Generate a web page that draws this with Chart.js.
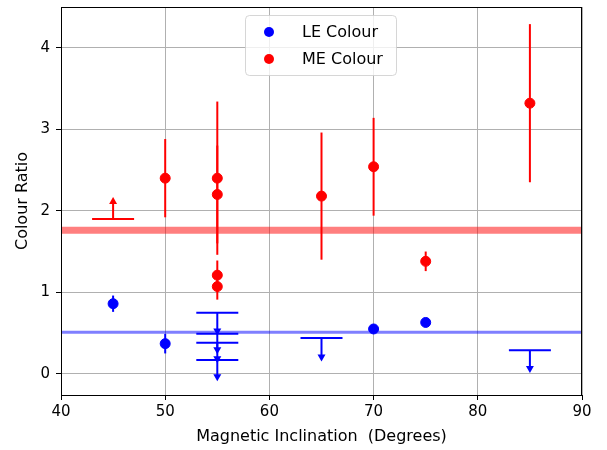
<!DOCTYPE html>
<html>
<head>
<meta charset="utf-8">
<script src="https://cdn.jsdelivr.net/npm/chart.js@4.4.1/dist/chart.umd.min.js"></script>
<style>
  html, body { margin: 0; padding: 0; background: #fff; }
</style>
</head>
<body>
<canvas id="colourChart" width="607" height="450"></canvas>
<script>
// ME colour measurements (x = inclination, y = ratio, err = symmetric error)
const meX   = [50, 55, 55, 55, 55, 65, 70, 75, 85];
const meY   = [2.40, 2.40, 2.20, 1.21, 1.07, 2.18, 2.54, 1.38, 3.32];
const meErr = [0.48, 0.94, 0.60, 0.18, 0.16, 0.78, 0.60, 0.12, 0.97];

// ME lower limits
const meLimX   = [45];
const meLimY   = [1.90];
const meLimLen = [0.27];

// LE colour measurements
const leX   = [45, 50, 70, 75];
const leY   = [0.86, 0.37, 0.55, 0.63];
const leErr = [0.10, 0.12, 0.02, 0.02];

// LE upper limits
const leLimX   = [55, 55, 55, 55, 65, 85];
const leLimY   = [0.75, 0.49, 0.38, 0.17, 0.44, 0.29];
const leLimLen = [0.28, 0.25, 0.25, 0.26, 0.29, 0.28];

// mean levels
const meLevel = 1.76;
const leLevel = 0.51;

const xTicks = [40, 50, 60, 70, 80, 90];
const yTicks = [0, 1, 2, 3, 4];

const BLUE = '#0000ff';
const RED = '#ff0000';

Chart.defaults.font.family = "'DejaVu Sans', sans-serif";
Chart.defaults.color = '#000';

function caret(ctx, x, y, dir) {
  // tip at (x, y); dir 1 points down, -1 points up
  ctx.beginPath();
  ctx.moveTo(x, y);
  ctx.lineTo(x - 4, y - 7 * dir);
  ctx.lineTo(x + 4, y - 7 * dir);
  ctx.closePath();
  ctx.fill();
}

const errorBars = {
  id: 'errorBars',
  beforeDatasetsDraw(chart) {
    const { ctx, chartArea: a, scales: { x, y } } = chart;
    ctx.save();
    ctx.beginPath();
    ctx.rect(a.left, a.top, a.right - a.left, a.bottom - a.top);
    ctx.clip();

    // mean levels
    ctx.strokeStyle = 'rgba(255,0,0,0.5)';
    ctx.lineWidth = 7;
    ctx.beginPath();
    ctx.moveTo(a.left, y.getPixelForValue(meLevel));
    ctx.lineTo(a.right, y.getPixelForValue(meLevel));
    ctx.stroke();
    ctx.strokeStyle = 'rgba(0,0,255,0.5)';
    ctx.lineWidth = 3;
    ctx.beginPath();
    ctx.moveTo(a.left, y.getPixelForValue(leLevel));
    ctx.lineTo(a.right, y.getPixelForValue(leLevel));
    ctx.stroke();

    ctx.lineWidth = 2;
    const bars = (xs, ys, es, col) => {
      ctx.strokeStyle = col;
      xs.forEach((v, i) => {
        const px = x.getPixelForValue(v);
        ctx.beginPath();
        ctx.moveTo(px, y.getPixelForValue(ys[i] - es[i]));
        ctx.lineTo(px, y.getPixelForValue(ys[i] + es[i]));
        ctx.stroke();
      });
    };
    bars(meX, meY, meErr, RED);
    bars(leX, leY, leErr, BLUE);

    // limits: wide cap with an arrow
    const limits = (xs, ys, ls, col, dir) => {
      ctx.strokeStyle = col;
      ctx.fillStyle = col;
      xs.forEach((v, i) => {
        const px = x.getPixelForValue(v);
        const py = y.getPixelForValue(ys[i]);
        const tip = y.getPixelForValue(ys[i] - dir * ls[i]);
        ctx.beginPath();
        ctx.moveTo(px - 21, py);
        ctx.lineTo(px + 21, py);
        ctx.moveTo(px, py);
        ctx.lineTo(px, tip - dir * 4);
        ctx.stroke();
        caret(ctx, px, tip, dir);
      });
    };
    limits(meLimX, meLimY, meLimLen, RED, -1);
    limits(leLimX, leLimY, leLimLen, BLUE, 1);
    ctx.restore();
  },
  afterDatasetsDraw(chart) {
    const { ctx, chartArea: a } = chart;
    ctx.save();
    ctx.strokeStyle = '#000';
    ctx.lineWidth = 1;
    ctx.strokeRect(a.left + 0.5, a.top + 0.5, a.right - a.left - 1, a.bottom - a.top);
    ctx.restore();
  },
  afterDraw(chart) {
    // legend box inside the plot
    const { ctx } = chart;
    ctx.save();
    ctx.fillStyle = 'rgba(255,255,255,0.8)';
    ctx.strokeStyle = 'rgba(204,204,204,0.8)';
    ctx.lineWidth = 1;
    ctx.beginPath();
    ctx.roundRect(245.5, 15.5, 151, 60, 4);
    ctx.fill();
    ctx.stroke();
    const items = [['LE Colour', BLUE, 32], ['ME Colour', RED, 59]];
    ctx.font = "16px 'DejaVu Sans'";
    ctx.textBaseline = 'middle';
    items.forEach(([label, col, yy]) => {
      ctx.fillStyle = col;
      ctx.beginPath();
      ctx.arc(269, yy, 5, 0, Math.PI * 2);
      ctx.fill();
      ctx.fillStyle = '#000';
      ctx.fillText(label, 302, yy + 1);
    });
    ctx.restore();
  }
};

const toPoints = (xs, ys) => xs.map((v, i) => ({ x: v, y: ys[i] }));

new Chart(document.getElementById('colourChart'), {
  type: 'scatter',
  data: {
    datasets: [{
      label: 'LE Colour',
      data: toPoints(leX, leY),
      backgroundColor: BLUE,
      borderColor: BLUE,
      pointRadius: 5,
      borderWidth: 1
    }, {
      label: 'ME Colour',
      data: toPoints(meX, meY),
      backgroundColor: RED,
      borderColor: RED,
      pointRadius: 5,
      borderWidth: 1
    }]
  },
  options: {
    responsive: false,
    animation: false,
    layout: { padding: { top: 7, right: 25, left: 4, bottom: 0 } },
    plugins: { legend: { display: false }, tooltip: { enabled: false } },
    scales: {
      x: {
        min: 40, max: 90,
        afterBuildTicks: s => { s.ticks = xTicks.map(v => ({ value: v })); },
        afterFit: s => { s.height = 55; s.paddingLeft = 0; s.paddingRight = 0; },
        grid: { color: '#b0b0b0', tickColor: '#000', tickLength: 5 },
        border: { color: '#000' },
        ticks: { font: { size: 15 }, padding: 3, maxRotation: 0 },
        title: { display: true, text: 'Magnetic Inclination  (Degrees)', font: { size: 16 }, padding: { top: 0, bottom: 4 } }
      },
      y: {
        min: -0.26, max: 4.5,
        afterBuildTicks: s => { s.ticks = yTicks.map(v => ({ value: v })); },
        afterFit: s => { s.width = 57; s.paddingTop = 0; s.paddingBottom = 0; },
        grid: { color: '#b0b0b0', tickColor: '#000', tickLength: 5 },
        border: { color: '#000' },
        ticks: { font: { size: 15 }, padding: 6 },
        title: { display: true, text: 'Colour Ratio', font: { size: 16 }, padding: { top: 9, bottom: 0 } }
      }
    }
  },
  plugins: [errorBars]
});
</script>
</body>
</html>
